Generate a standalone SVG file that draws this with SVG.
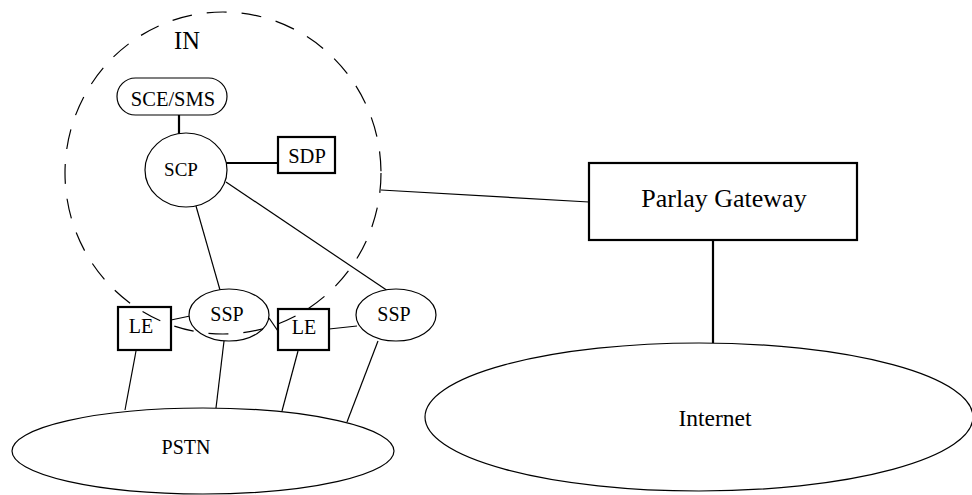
<svg xmlns="http://www.w3.org/2000/svg" width="972" height="495" viewBox="0 0 972 495">
<style>
text{font-family:"Liberation Serif","Times New Roman",serif;fill:#000;text-anchor:middle}
.thin{fill:none;stroke:#000;stroke-width:1.2}
.thick{fill:none;stroke:#000;stroke-width:2.2}
.box{fill:#fff;stroke:#000;stroke-width:2.2}
.oval{fill:#fff;stroke:#000;stroke-width:1.2}
</style>
<rect width="972" height="495" fill="#fff"/>
<g id="pstn"><ellipse class="oval" cx="203" cy="451" rx="191" ry="43"/><text x="186" y="454" font-size="20">PSTN</text></g>
<g id="internet"><ellipse class="oval" cx="699" cy="417" rx="274" ry="74"/><text x="715" y="426" font-size="23.5">Internet</text></g>
<g id="connectors">
<line class="thick" x1="179" y1="115" x2="179" y2="134"/>
<line class="thick" x1="226" y1="163" x2="278" y2="163"/>
<line class="thin" x1="196" y1="206" x2="220" y2="290"/>
<line class="thin" x1="226" y1="182" x2="388" y2="291"/>
<polyline class="thin" points="381,190 589,202"/>
<line class="thick" x1="713" y1="240" x2="713" y2="343"/>
<line class="thin" x1="171" y1="320" x2="190" y2="316"/>
<line class="thin" x1="269" y1="318" x2="280" y2="334"/>
<line class="thin" x1="329" y1="329" x2="357" y2="326"/>
<line class="thin" x1="136" y1="351" x2="125" y2="410"/>
<line class="thin" x1="224" y1="341" x2="216" y2="408"/>
<line class="thin" x1="298" y1="351" x2="282" y2="411"/>
<line class="thin" x1="378" y1="341" x2="347" y2="422"/>
</g>
<g id="sce"><rect class="oval" x="117" y="78" width="110" height="37" rx="18.5"/><text x="173" y="106" font-size="20.5">SCE/SMS</text></g>
<g id="scp"><ellipse class="oval" cx="186" cy="170" rx="41" ry="37"/><text x="181" y="176" font-size="19">SCP</text></g>
<g id="sdp"><rect class="box" x="278" y="137" width="57" height="36"/><text x="307" y="163" font-size="20.5">SDP</text></g>
<g id="le1"><rect class="box" x="118" y="307" width="53" height="43"/><text x="141" y="333" font-size="20">LE</text></g>
<g id="ssp1"><ellipse class="oval" cx="229" cy="315" rx="40" ry="26"/><text x="227" y="321" font-size="20">SSP</text></g>
<g id="le2"><rect class="box" x="278" y="309" width="51" height="41"/><text x="304" y="334" font-size="20">LE</text></g>
<g id="ssp2"><ellipse class="oval" cx="396" cy="315" rx="40" ry="26"/><text x="394" y="321" font-size="20">SSP</text></g>
<g id="in"><ellipse class="thin" cx="223" cy="173" rx="158" ry="161" stroke-dasharray="20 15"/><text x="187" y="49" font-size="24.5">IN</text></g>
<g id="parlay"><rect class="box" x="589" y="163" width="268" height="77"/><text x="724" y="207" font-size="26">Parlay Gateway</text></g>
</svg>
